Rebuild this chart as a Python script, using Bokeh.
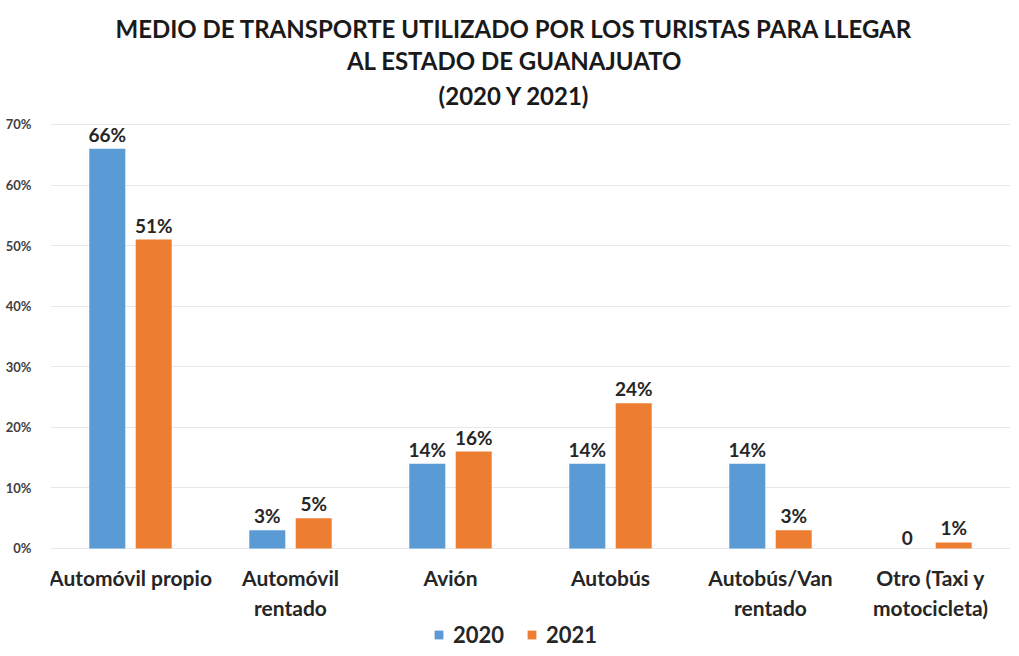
from bokeh.plotting import figure
from bokeh.models import ColumnDataSource, FixedTicker, Legend, LegendItem
from bokeh.transform import dodge
from bokeh.core.properties import value
from bokeh.embed import file_html
from bokeh.resources import INLINE

categories = ["Automóvil propio", "Automóvil\nrentado", "Avión", "Autobús",
              "Autobús/Van\nrentado", "Otro (Taxi y\nmotocicleta)"]
v2020 = [66, 3, 14, 14, 14, 0]
v2021 = [51, 5, 16, 24, 3, 1]
lab2020 = ["66%", "3%", "14%", "14%", "14%", "0"]
lab2021 = ["51%", "5%", "16%", "24%", "3%", "1%"]
yticks = [0, 10, 20, 30, 40, 50, 60, 70]
title_lines = ["MEDIO DE TRANSPORTE UTILIZADO POR LOS TURISTAS PARA LLEGAR",
               "AL ESTADO DE GUANAJUATO", "(2020 Y 2021)"]

FONT = "Lato"
BLUE = "#5B9BD5"
ORANGE = "#ED7D31"
TXT = "#262626"

xs = [i + 0.5 for i in range(len(categories))]
src = ColumnDataSource(dict(x=xs, zero=[0] * len(xs), cat=categories,
                            v2020=v2020, v2021=v2021, l2020=lab2020, l2021=lab2021))

p = figure(width=1019, height=656, x_range=(0, 6), y_range=(-17.83, 90.47),
           output_backend="svg", toolbar_location=None,
           min_border_left=50, min_border_right=9, min_border_top=0, min_border_bottom=0)
p.outline_line_color = None
p.background_fill_color = "white"
p.border_fill_color = "white"

r1 = p.vbar(x=dodge("x", -0.145), top="v2020", width=0.225, source=src,
            fill_color=BLUE, line_color=None)
r2 = p.vbar(x=dodge("x", 0.145), top="v2021", width=0.225, source=src,
            fill_color=ORANGE, line_color=None)

for off, col, ycol in [(-0.145, "l2020", "v2020"), (0.145, "l2021", "v2021")]:
    p.text(x=dodge("x", off), y=ycol, text=col, source=src, y_offset=-3,
           text_align="center", text_baseline="bottom",
           text_font=value(FONT), text_font_style="bold", text_font_size="19px",
           text_color=TXT)

# category labels (drawn as text under the zero line)
p.text(x="x", y="zero", text="cat", source=src, y_offset=17,
       text_align="center", text_baseline="top", text_line_height=1.2,
       text_font=value(FONT), text_font_style="bold", text_font_size="21px",
       text_color=TXT)

# three-line title, placed above the top gridline
top = max(yticks)
mid = len(categories) / 2
for line, dy in zip(title_lines, [-96, -64, -29]):
    p.text(x=[mid], y=[top], text=[line], x_offset=-16, y_offset=dy,
           text_align="center", text_baseline="middle",
           text_font=value(FONT), text_font_style="bold", text_font_size="24px",
           text_color="#1a1a1a")

p.xaxis.visible = False
p.xgrid.grid_line_color = None

p.yaxis.ticker = FixedTicker(ticks=yticks)
p.yaxis.major_label_overrides = {t: f"{t}%" for t in yticks}
p.yaxis.major_label_text_font = FONT
p.yaxis.major_label_text_font_style = "bold"
p.yaxis.major_label_text_font_size = "13px"
p.yaxis.major_label_text_color = "#404040"
p.yaxis.axis_line_color = None
p.yaxis.major_tick_line_color = None
p.yaxis.minor_tick_line_color = None
p.yaxis.major_label_standoff = 13
p.ygrid.grid_line_color = "#e8e8e8"
p.ygrid.ticker = FixedTicker(ticks=yticks)

legend = Legend(items=[LegendItem(label="2020", renderers=[r1]),
                       LegendItem(label="2021", renderers=[r2])],
                orientation="horizontal", location=(383, 8),
                label_text_font=FONT, label_text_font_style="bold", label_text_font_size="22px",
                label_text_color=TXT, glyph_width=11, glyph_height=11,
                border_line_color=None, background_fill_alpha=0,
                spacing=22, padding=2, margin=0, label_standoff=9)
p.add_layout(legend)

open("out.html", "w").write(file_html(p, INLINE))
